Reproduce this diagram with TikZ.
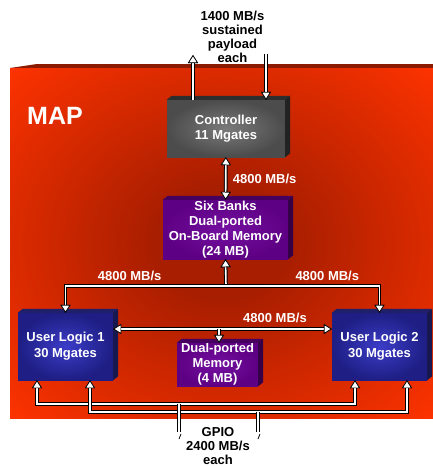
\documentclass[tikz,border=0pt]{standalone}
\usepackage{fontspec}
\setmainfont{Liberation Sans}
\usetikzlibrary{arrows.meta, positioning}

\definecolor{mapred}{HTML}{FF3300}
\definecolor{mapdark}{HTML}{A81E00}
\definecolor{maptop}{HTML}{8A1A00}
\definecolor{gatelight}{HTML}{7A7A7A}
\definecolor{gatedark}{HTML}{4C4C4C}
\definecolor{gatetop}{HTML}{2E2E2E}
\definecolor{memlight}{HTML}{7410A0}
\definecolor{memdark}{HTML}{5E0084}
\definecolor{memtop}{HTML}{46005E}
\definecolor{logiclight}{HTML}{3C3CC8}
\definecolor{logicdark}{HTML}{1E1E84}
\definecolor{logictop}{HTML}{20206A}

\pgfdeclareradialshading{mapglow}{\pgfpoint{0bp}{0bp}}{%
  color(0bp)=(mapdark); color(8bp)=(mapdark); color(36bp)=(mapred); color(50bp)=(mapred)}

\begin{document}
\begin{tikzpicture}[x=1pt, y=-1pt, >={Triangle[length=8pt, width=10pt, color=black, fill=white, line width=0.7pt]},
  pipe/.style={draw=white, line width=1.6pt, preaction={draw=black, line width=3.6pt}},
  block/.style={text=white, align=center, inner sep=0pt, font=\bfseries\fontsize{13}{15}\selectfont},
  gatebox/.style={block, inner color=gatelight, outer color=gatedark},
  membox/.style={block, inner color=memlight, outer color=memdark},
  logicbox/.style={block, inner color=logiclight, outer color=logicdark, font=\bfseries\fontsize{13}{16}\selectfont},
  note/.style={align=center, font=\bfseries\fontsize{13}{14}\selectfont},
  rate/.style={text=white, font=\bfseries\fontsize{13}{14}\selectfont}]
\useasboundingbox (0,0) rectangle (433,466);

% the MAP board
\fill[maptop] (10,68) -- (37,64) -- (433,64) -- (433,68) -- cycle;
\shade[shading=mapglow] (10,68) rectangle (433,418);
\node[text=white, font=\bfseries\fontsize{25}{25}\selectfont] (map) at (55,116) {MAP};

% chips
\node[gatebox, minimum width=118, minimum height=57] (ctrl) at (226,128.5) {Controller\\11 Mgates};
\node[membox, minimum width=125, minimum height=59] (bank) at (225.5,229.5) {Six Banks\\Dual-ported\\On-Board Memory\\(24 MB)};
\node[logicbox, minimum width=95, minimum height=67] (ul1) at (65.5,346.5) {User Logic 1\\30 Mgates};
\node[logicbox, minimum width=95, minimum height=67] (ul2) at (379.5,346.5) {User Logic 2\\30 Mgates};
\node[membox, minimum width=81, minimum height=43] (dpm) at (217.5,364.5) {Dual-ported\\Memory\\(4 MB)};

% top and side faces
\foreach \b/\t in {ctrl/gatetop, bank/memtop, ul1/logictop, ul2/logictop, dpm/memtop} {
  \fill[\t] (\b.north west) -- ++(5,-4) -- ([shift={(5,-4)}]\b.north east) -- (\b.north east) -- cycle;
  \fill[\t!75!black] (\b.north east) -- ++(5,-4) -- ([shift={(5,-4)}]\b.south east) -- (\b.south east) -- cycle;
}

% host side
\node[note] (payload) at (232.5,36.5) {1400 MB/s\\sustained\\payload\\each};
\coordinate (hostout) at (193,55);
\coordinate (hostin) at (266,54);
\draw[pipe,->] (ctrl.north -| hostout) -- (hostout);
\draw[pipe,->] (hostin) -- (ctrl.north -| hostin);

% memory paths
\draw[pipe,<->] (ctrl) -- (bank) node[midway, right=3pt, rate] {4800 MB/s};
\coordinate (split) at (226,286);
\draw[pipe,->] (split) -- (bank.south);
\draw[pipe,->] (split) -| (ul1.north) node[pos=0.3, above=1pt, rate] {4800 MB/s};
\draw[pipe,->] (split) -| (ul2.north) node[pos=0.33, above=1pt, rate] {4800 MB/s};

\coordinate (bridge) at (219,329);
\draw[pipe,<->] (ul1.east |- bridge) -- (ul2.west |- bridge) node[pos=0.74, above=2pt, rate] {4800 MB/s};
\draw[pipe,->] (bridge) -- (dpm.north -| bridge);

% GPIO
\draw[pipe,<->] ([xshift=-28.5]ul1.south) -- ++(0,24) coordinate (lowA) -| ([xshift=-24.5]ul2.south);
\draw[pipe,<->] ([xshift=24.5]ul1.south) -- ++(0,32) coordinate (lowB) -| ([xshift=27.5]ul2.south);
\coordinate (gpioA) at (179,432);
\coordinate (gpioB) at (258,432);
\draw[pipe] (lowA -| gpioA) -- (gpioA);
\draw[pipe] (lowB -| gpioB) -- (gpioB);
\draw[line width=0.8pt] (179,439) -- (181,434);
\draw[line width=0.8pt] (258,439) -- (260,434);
\node[note] (gpio) at (218,446) {GPIO\\2400 MB/s\\each};

\end{tikzpicture}
\end{document}
